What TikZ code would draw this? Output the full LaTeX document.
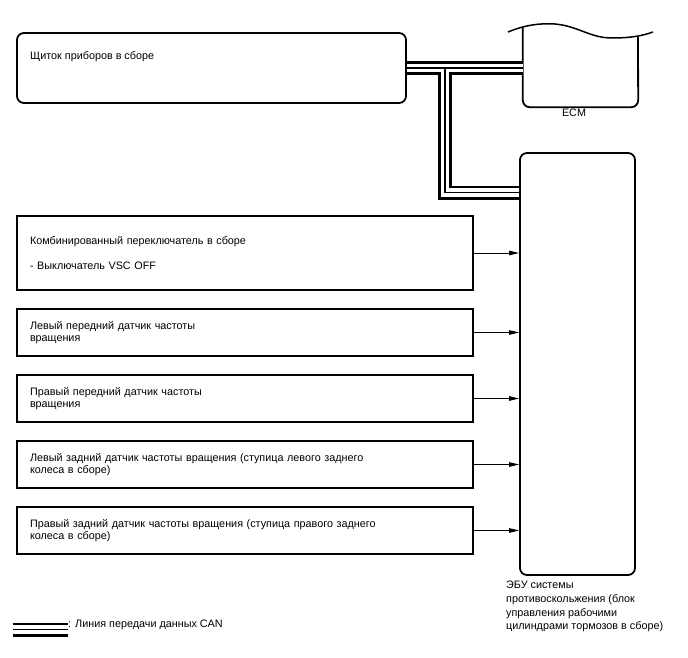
\documentclass[tikz,border=0pt]{standalone}
\usepackage{fontspec}
\setmainfont{Liberation Sans}
\usetikzlibrary{arrows.meta, positioning}
\tikzset{
  every picture/.style={x=1pt, y=-1pt, font=\fontsize{10.8}{11.8}\selectfont},
  blok/.style={draw, line width=1.8pt, rounded corners=7pt, inner sep=0pt},
  datchik/.style={draw, line width=1.2pt, text width=430pt, inner xsep=13pt, align=left,
                  minimum height=47pt},
  strelka/.style={-{Triangle[length=10pt, width=4.5pt]}, line width=1pt},
  canbus/.style={line width=8.5pt, white, preaction={draw=black, line width=14pt},
                 postaction={draw=black, line width=1.5pt}},
  podpis/.style={inner sep=0pt, align=left},
}

\begin{document}
\begin{tikzpicture}
  \useasboundingbox (0,0) rectangle (688,658);
  % blocks on the CAN bus
  \node[blok, minimum width=389pt, minimum height=70pt] (shitok) at (211.5,68) {};
  \node[podpis, anchor=west] (shitoktxt) at (30,57) {Щиток приборов в сборе};
  \node[inner sep=0pt, minimum width=115pt, minimum height=80pt] (ecm) at (580.5,67) {};
  \draw[line width=1.8pt, rounded corners=7pt] (ecm.north west) -- (ecm.south west) -- (ecm.south east) -- (638,37);
  \draw[line width=1.5pt] (508,32) .. controls (525,25) and (540,23) .. (555,24)
    .. controls (578,26) and (590,38) .. (612,38) .. controls (630,38) and (642,36) .. (653,32);
  \node[podpis] (ecmtxt) at (574,113) {ECM};
  \node[blok, minimum width=115pt, minimum height=422pt] (abs) at (577.5,364) {};
  \node[podpis, anchor=north west, font=\fontsize{10.8}{13.7}\selectfont] (abstxt) at (506,581)
    {ЭБУ системы\\противоскольжения (блок\\управления рабочими\\цилиндрами тормозов в сборе)};
  % CAN line
  \coordinate (razv) at (445,68);
  \coordinate (razvniz) at (445,192.5);
  \draw[canbus] (shitok.east) -- (shitok.east -| ecm.west) (razv) -- (razvniz) -- (razvniz -| abs.west);
  % sensors and switch
  \node[datchik, minimum height=74pt] (d1) at (245,253)
    {Комбинированный переключатель в сборе\\[13pt]- Выключатель VSC OFF};
  \foreach \n/\y/\t in {2/332.5/{Левый передний датчик частоты\\вращения},
                        3/398.5/{Правый передний датчик частоты\\вращения},
                        4/464.5/{Левый задний датчик частоты вращения (ступица левого заднего\\колеса в сборе)},
                        5/530.5/{Правый задний датчик частоты вращения (ступица правого заднего\\колеса в сборе)}} {
    \node[datchik] (d\n) at (245,\y) {\t};
  }
  \foreach \n in {1,...,5} {\draw[strelka] (d\n.east) -- (d\n.east -| abs.west);}
  % legend
  \node[podpis, anchor=west] (legenda) at (68,625) {: Линия передачи данных CAN};
  \coordinate (legnach) at (13,629.5);
  \draw[canbus] (legnach) -- (legnach -| legenda.west);
\end{tikzpicture}
\end{document}
